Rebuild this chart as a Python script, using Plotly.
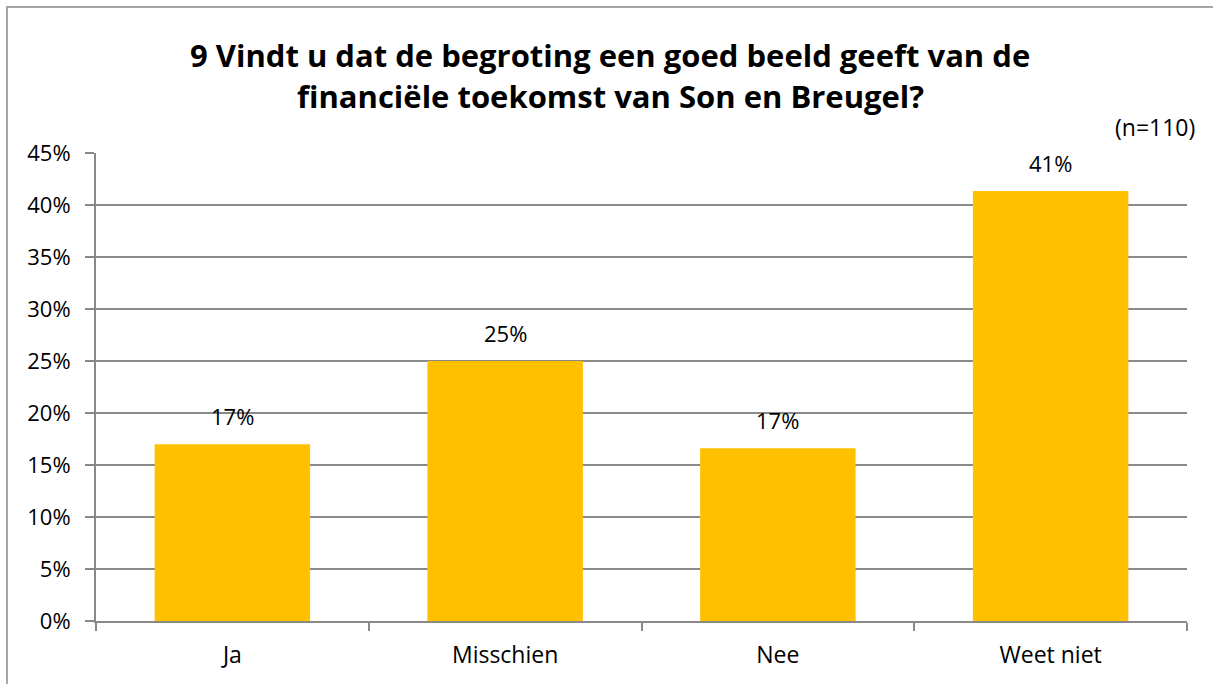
import plotly.graph_objects as go

categories = ["Ja", "Misschien", "Nee", "Weet niet"]
values = [17.0, 25.0, 16.6, 41.35]
labels = ["17%", "25%", "17%", "41%"]
y_ticks = [0, 5, 10, 15, 20, 25, 30, 35, 40, 45]
y_ticktext = [f"{v}%" for v in y_ticks]
title_lines = ["9 Vindt u dat de begroting een goed beeld geeft van de",
               "financiële toekomst van Son en Breugel?"]
n_note = "(n=110)"

W, H = 1213, 684
L, R, T, B = 96, 26, 153, 63
pw, ph = W - L - R, H - T - B

def px_x(x):
    return (x - L) / pw

def px_y(y):
    return (H - B - y) / ph

FONT = "Open Sans"
GRID = "#898989"

fig = go.Figure()
fig.add_trace(go.Bar(
    x=categories, y=values,
    marker=dict(color="#FFC000", line=dict(width=0)),
    hoverinfo="skip",
))

annotations = []
for c, v, t in zip(categories, values, labels):
    annotations.append(dict(x=c, y=v, xref="x", yref="y", text=t, showarrow=False,
                            yanchor="bottom", yshift=11,
                            font=dict(family=FONT, size=22, color="#000000")))

annotations.append(dict(x=px_x(610), y=px_y(55), xref="paper", yref="paper",
                        text="<b>" + title_lines[0] + "</b>", showarrow=False,
                        xanchor="center", yanchor="middle",
                        font=dict(family=FONT, size=31, color="#000000")))
annotations.append(dict(x=px_x(610), y=px_y(96), xref="paper", yref="paper",
                        text="<b>" + title_lines[1] + "</b>", showarrow=False,
                        xanchor="center", yanchor="middle",
                        font=dict(family=FONT, size=31, color="#000000")))
annotations.append(dict(x=px_x(1197), y=px_y(127), xref="paper", yref="paper",
                        text=n_note, showarrow=False,
                        xanchor="right", yanchor="middle",
                        font=dict(family=FONT, size=23, color="#000000")))

fig.update_layout(
    width=W, height=H,
    margin=dict(l=L, r=R, t=T, b=B, pad=0),
    paper_bgcolor="white", plot_bgcolor="white",
    showlegend=False,
    bargap=0.43,
    annotations=annotations,
    shapes=[dict(type="rect", xref="paper", yref="paper",
                 x0=px_x(7), x1=px_x(1220), y0=px_y(7), y1=px_y(690),
                 line=dict(color="#A6A6A6", width=2), layer="below")],
    font=dict(family=FONT, color="#000000"),
)
fig.update_xaxes(
    type="category",
    showline=True, linecolor=GRID, linewidth=2,
    ticks="outside", tickson="boundaries", ticklen=8, tickcolor=GRID, tickwidth=2,
    tickfont=dict(family=FONT, size=23, color="#000000"),
    showgrid=False,
    ticklabelstandoff=12,
)
fig.update_yaxes(
    range=[0, 45], tickvals=y_ticks, ticktext=y_ticktext,
    showline=True, linecolor=GRID, linewidth=2,
    ticks="outside", ticklen=9, tickcolor=GRID, tickwidth=2,
    showgrid=True, gridcolor=GRID, gridwidth=2,
    zeroline=False,
    tickfont=dict(family=FONT, size=22, color="#000000"),
    ticklabelstandoff=10,
)

fig.write_html("out.html",
               config={"displayModeBar": False, "staticPlot": True},
               post_script="document.body.style.margin='0';document.body.style.padding='0';document.body.style.overflow='hidden';")
